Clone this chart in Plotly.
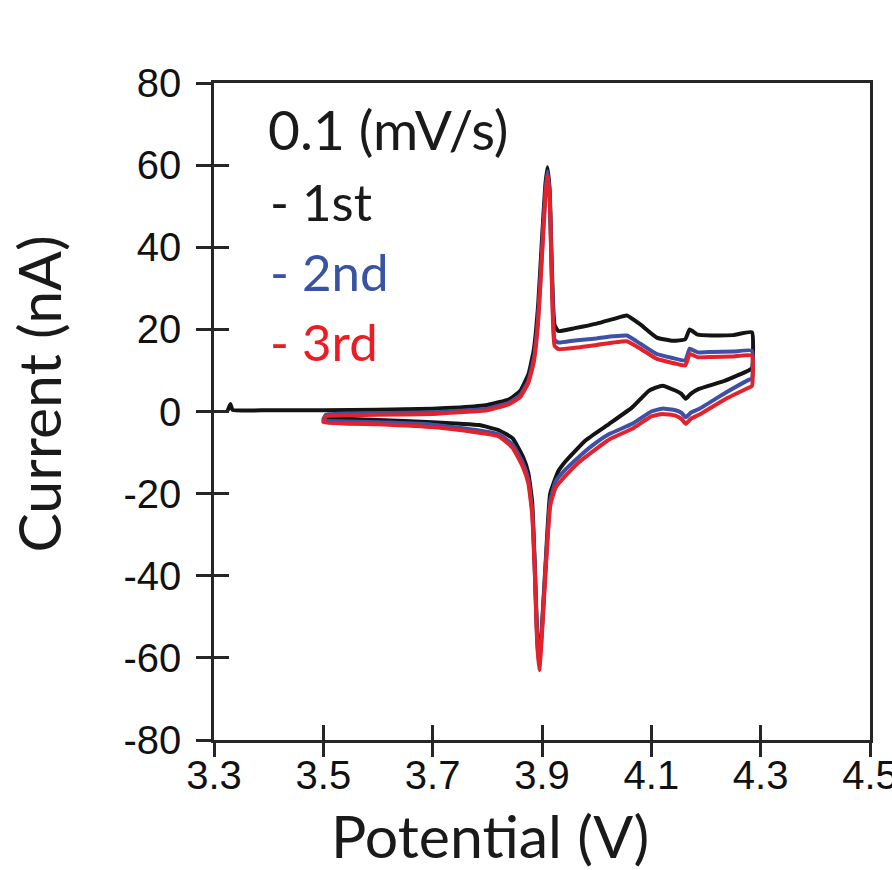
import plotly.graph_objects as go

# ---- cyclic voltammetry data, 0.1 mV/s, three cycles ----
# each cycle: anodic sweep (upper branch) then cathodic sweep (lower branch)

cycle1_anodic_v = [3.325, 3.330, 3.334, 3.40, 3.50, 3.60, 3.70, 3.75, 3.80, 3.84, 3.86, 3.875,
                   3.885, 3.893, 3.900, 3.906, 3.910, 3.914, 3.917, 3.920, 3.923, 3.930, 3.96,
                   4.00, 4.03, 4.055, 4.08, 4.11, 4.14, 4.162, 4.170, 4.175, 4.185, 4.21, 4.25, 4.284]
cycle1_anodic_i = [0.2, 1.8, 0.4, 0.3, 0.3, 0.4, 0.7, 1.0, 1.6, 3.0, 5.0, 9.0,
                   15.0, 26.0, 42.0, 55.0, 59.5, 54.0, 40.0, 27.0, 21.0, 19.6, 20.3,
                   21.4, 22.5, 23.4, 21.2, 18.0, 17.2, 17.6, 20.0, 19.6, 18.7, 18.5, 18.6, 19.3]
cycle1_cathodic_v = [4.284, 4.278, 4.235, 4.187, 4.172, 4.163, 4.155, 4.144, 4.12, 4.096, 4.065,
                     4.023, 3.98, 3.944, 3.930, 3.915, 3.907, 3.900, 3.895, 3.891, 3.887, 3.882,
                     3.875, 3.865, 3.846, 3.82, 3.785, 3.75, 3.70, 3.60, 3.50]
cycle1_cathodic_i = [10.5, 10.0, 7.5, 5.5, 4.3, 3.1, 4.3, 5.1, 6.3, 5.1, 1.0,
                     -3.0, -7.0, -12.0, -14.5, -20.0, -36.0, -52.0, -61.0, -54.0, -38.0, -22.0,
                     -15.0, -11.0, -6.5, -4.5, -3.3, -3.0, -2.6, -2.1, -1.6]

cycle2_anodic_v = [3.50, 3.505, 3.55, 3.60, 3.70, 3.75, 3.80, 3.84, 3.86, 3.875, 3.885, 3.893,
                   3.900, 3.906, 3.910, 3.914, 3.917, 3.920, 3.923, 3.930, 3.96, 4.00, 4.03,
                   4.055, 4.08, 4.11, 4.14, 4.162, 4.170, 4.175, 4.185, 4.21, 4.25, 4.284]
cycle2_anodic_i = [-2.0, -0.8, -0.5, -0.4, -0.2, 0.2, 0.7, 2.2, 4.0, 7.5, 13.0, 23.0,
                   39.0, 53.0, 58.5, 53.0, 38.0, 24.0, 17.5, 16.8, 17.3, 17.8, 18.3,
                   18.5, 16.5, 14.0, 13.0, 12.4, 15.3, 15.0, 14.4, 14.5, 14.6, 14.8]
cycle2_cathodic_v = [4.284, 4.278, 4.235, 4.187, 4.172, 4.163, 4.155, 4.144, 4.12, 4.10, 4.065,
                     4.023, 3.99, 3.968, 3.944, 3.925, 3.915, 3.907, 3.900, 3.895, 3.891, 3.887,
                     3.882, 3.875, 3.865, 3.846, 3.82, 3.785, 3.70, 3.60, 3.50]
cycle2_cathodic_i = [8.0, 7.7, 4.5, 0.6, -0.3, -1.4, -0.3, 0.3, 0.7, 0.0, -3.0,
                     -5.5, -8.5, -11.0, -14.0, -17.0, -22.0, -37.0, -53.0, -62.0, -55.0, -39.0,
                     -24.0, -16.5, -12.5, -8.0, -5.5, -4.6, -3.2, -2.6, -2.0]

cycle3_anodic_v = [3.50, 3.505, 3.55, 3.60, 3.70, 3.75, 3.80, 3.84, 3.86, 3.875, 3.885, 3.893,
                   3.900, 3.906, 3.910, 3.914, 3.917, 3.920, 3.923, 3.930, 3.96, 4.00, 4.03,
                   4.055, 4.08, 4.11, 4.14, 4.162, 4.170, 4.175, 4.185, 4.21, 4.25, 4.284]
cycle3_anodic_i = [-2.6, -1.2, -0.9, -0.8, -0.6, -0.2, 0.3, 1.8, 3.5, 7.0, 12.0, 22.0,
                   38.0, 52.0, 57.5, 52.0, 37.0, 22.0, 16.0, 15.2, 15.5, 16.2, 16.8,
                   17.1, 15.3, 12.8, 11.8, 11.2, 14.0, 13.8, 13.2, 13.3, 13.4, 13.6]
cycle3_cathodic_v = [4.284, 4.278, 4.235, 4.187, 4.172, 4.163, 4.155, 4.144, 4.12, 4.10, 4.065,
                     4.023, 3.99, 3.968, 3.944, 3.925, 3.915, 3.907, 3.900, 3.895, 3.891, 3.887,
                     3.882, 3.875, 3.865, 3.846, 3.82, 3.785, 3.70, 3.60, 3.50]
cycle3_cathodic_i = [6.2, 5.8, 3.0, -0.8, -1.8, -3.0, -1.8, -1.0, -0.6, -1.2, -4.2,
                     -6.8, -10.0, -12.3, -15.5, -18.5, -23.0, -38.0, -54.0, -63.0, -56.0, -40.0,
                     -25.0, -17.5, -13.5, -8.8, -6.0, -5.2, -3.8, -3.1, -2.6]

cycle_names = ["1st", "2nd", "3rd"]
cycle_colors = ["#141414", "#3f50a6", "#e4222b"]
legend_colors = ["#1a1a1a", "#3953a4", "#ed1c24"]

x_ticks = [3.3, 3.5, 3.7, 3.9, 4.1, 4.3, 4.5]
x_tick_text = ["3.3", "3.5", "3.7", "3.9", "4.1", "4.3", "4.5"]
y_ticks = [-80, -60, -40, -20, 0, 20, 40, 60, 80]
y_tick_text = ["-80", "-60", "-40", "-20", "0", "20", "40", "60", "80"]

cycles = [
    (cycle1_anodic_v + cycle1_cathodic_v, cycle1_anodic_i + cycle1_cathodic_i),
    (cycle2_anodic_v + cycle2_cathodic_v, cycle2_anodic_i + cycle2_cathodic_i),
    (cycle3_anodic_v + cycle3_cathodic_v, cycle3_anodic_i + cycle3_cathodic_i),
]

fig = go.Figure()
for (v, i), name, color in zip(cycles, cycle_names, cycle_colors):
    fig.add_trace(go.Scatter(x=v, y=i, mode="lines", name=name,
                             line=dict(color=color, width=4, shape="spline", smoothing=0.4),
                             showlegend=False))

# helper trace so the inner-tick overlay axes are drawn
fig.add_trace(go.Scatter(x=[None], y=[None], xaxis="x2", yaxis="y2",
                         showlegend=False, hoverinfo="skip"))

axis_color = "#262626"
tick_font = dict(family="Liberation Sans, Arial, sans-serif", size=40, color="#111111")
title_font = dict(family="Lato, sans-serif", size=59, color="#1a1a1a")
note_font = "Lato, sans-serif"

fig.update_layout(
    width=892, height=870,
    margin=dict(l=214, r=22, t=83, b=130, autoexpand=False),
    paper_bgcolor="white", plot_bgcolor="white",
    xaxis=dict(range=[3.3, 4.5], tickvals=x_ticks, ticktext=x_tick_text,
               ticks="outside", ticklen=14, tickwidth=2.5, tickcolor=axis_color,
               showline=True, linewidth=2.5, linecolor=axis_color, mirror=True,
               showgrid=False, zeroline=False, tickfont=tick_font, ticklabelstandoff=-16,
               ticklabeloverflow="allow", automargin=False),
    yaxis=dict(range=[-80, 80], tickvals=y_ticks, ticktext=y_tick_text,
               ticks="outside", ticklen=15, tickwidth=2.5, tickcolor=axis_color,
               showline=True, linewidth=2.5, linecolor=axis_color, mirror=True,
               showgrid=False, zeroline=False, tickfont=tick_font, ticklabelstandoff=7,
               ticklabeloverflow="allow", automargin=False),
    xaxis2=dict(range=[3.3, 4.5], tickvals=x_ticks, overlaying="x", anchor="y", side="bottom",
                ticks="inside", ticklen=15, tickwidth=2.5, tickcolor=axis_color,
                showticklabels=False, showline=False, showgrid=False, zeroline=False),
    yaxis2=dict(range=[-80, 80], tickvals=y_ticks, overlaying="y", anchor="x", side="left",
                ticks="inside", ticklen=15, tickwidth=2.5, tickcolor=axis_color,
                showticklabels=False, showline=False, showgrid=False, zeroline=False),
)

annotations = [
    dict(text="Potential (V)", x=0.42, y=-0.146, xref="paper", yref="paper",
         showarrow=False, font=title_font, xanchor="center", yanchor="middle"),
    dict(text="Current (nA)", x=-0.267, y=0.527, xref="paper", yref="paper",
         showarrow=False, font=title_font, textangle=-90, xanchor="center", yanchor="middle"),
    dict(text="0.1 (mV/s)", x=0.080, y=0.930, xref="paper", yref="paper", showarrow=False,
         font=dict(family=note_font, size=55, color="#1a1a1a"), xanchor="left", yanchor="middle"),
]
label_y = [0.819, 0.713, 0.606]
for name, color, ly in zip(cycle_names, legend_colors, label_y):
    annotations.append(dict(text="- " + name, x=0.082, y=ly, xref="paper", yref="paper",
                            showarrow=False, font=dict(family=note_font, size=51, color=color),
                            xanchor="left", yanchor="middle"))
fig.update_layout(annotations=annotations)

fig.write_html("out.html")
